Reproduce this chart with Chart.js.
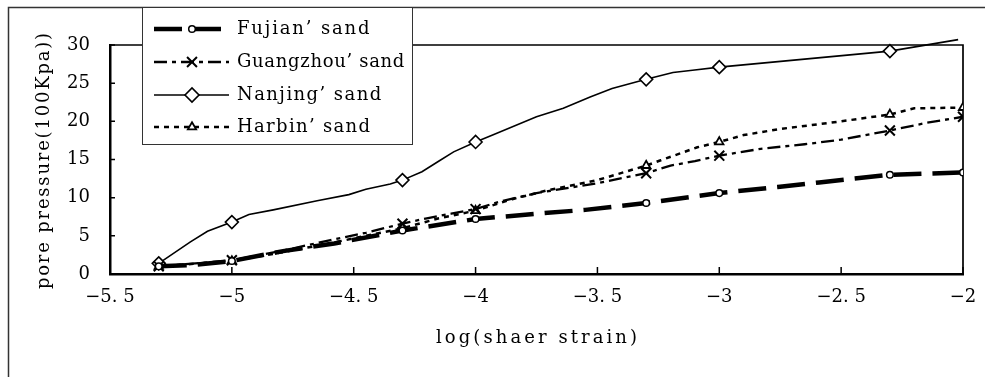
<!DOCTYPE html>
<html>
<head>
<meta charset="utf-8">
<script src="https://cdn.jsdelivr.net/npm/chart.js@4.4.0/dist/chart.umd.min.js"></script>
<style>
  html, body { margin: 0; padding: 0; background: #fff; }
  #wrap { width: 985px; height: 377px; }
</style>
</head>
<body>
<div id="wrap"><canvas id="poreChart" width="985" height="377"></canvas></div>
<script>
// names + tick values
const seriesNames = ["Fujian’ sand", "Guangzhou’ sand", "Nanjing’ sand", "Harbin’ sand"];
const markerX = [-5.3, -5, -4.3, -4, -3.3, -3, -2.3, -2];
const xTicks = [-5.5, -5, -4.5, -4, -3.5, -3, -2.5, -2];
const yTicks = [0, 5, 10, 15, 20, 25, 30];
const xTitle = "log(shaer strain)";
const yTitle = "pore pressure(100Kpa))";

// series
const fujianX = [-5.3, -5.15, -5.0, -4.79, -4.58, -4.3, -4.0, -3.75, -3.55, -3.3, -3.0, -2.76, -2.59, -2.3, -2.0];
const fujianY = [1.0, 1.2, 1.7, 3.0, 4.0, 5.7, 7.2, 7.9, 8.4, 9.3, 10.6, 11.4, 12.0, 13.0, 13.3];

const gzX = [-5.3, -5.0, -4.8, -4.6, -4.45, -4.3, -4.2, -4.1, -4.0, -3.9, -3.75, -3.5, -3.3, -3.2, -3.1, -3.0, -2.83, -2.65, -2.5, -2.3, -2.15, -2.0];
const gzY = [1.0, 1.8, 3.0, 4.4, 5.4, 6.6, 7.3, 7.9, 8.5, 9.5, 10.6, 11.9, 13.2, 14.2, 14.8, 15.5, 16.4, 17.0, 17.6, 18.8, 19.8, 20.6];

const njX = [-5.3, -5.17, -5.1, -5.0, -4.93, -4.83, -4.65, -4.52, -4.45, -4.35, -4.3, -4.22, -4.15, -4.09, -4.0, -3.93, -3.75, -3.64, -3.53, -3.44, -3.3, -3.19, -3.11, -3.0, -2.3, -2.02];
const njY = [1.4, 4.2, 5.6, 6.8, 7.8, 8.4, 9.6, 10.4, 11.1, 11.8, 12.3, 13.4, 14.8, 16.0, 17.3, 18.2, 20.6, 21.7, 23.2, 24.3, 25.5, 26.4, 26.7, 27.1, 29.2, 30.7];

const hbX = [-5.3, -5.0, -4.8, -4.6, -4.45, -4.3, -4.15, -4.0, -3.85, -3.7, -3.5, -3.3, -3.24, -3.09, -3.0, -2.9, -2.75, -2.5, -2.3, -2.2, -2.0];
const hbY = [1.0, 1.7, 2.8, 4.0, 5.0, 6.0, 7.3, 8.3, 9.8, 11.0, 12.3, 14.2, 14.9, 16.6, 17.3, 18.2, 19.0, 20.0, 20.9, 21.7, 21.8];

const FONT = "'DejaVu Serif', serif";
const FSIZE = 18;

function pts(xs, ys) {
  return xs.map((x, i) => ({ x: x, y: ys[i] }));
}
// only show a marker on the measured strains
function markerSize(r) {
  return ctx => (ctx.raw && markerX.includes(ctx.raw.x)) ? r : 0;
}
function fmt(v) {
  return String(v).replace('-', '\u2212').replace('.', '. ');
}
// the original font is monospaced, so stretch text to the same width
function drawSpaced(c, text, x, y, target, align) {
  c.letterSpacing = '0px';
  const w = c.measureText(text).width;
  const n = [...text].length;
  const s = Math.max(0, (target - w) / n);
  c.letterSpacing = s.toFixed(2) + 'px';
  c.textAlign = 'left';
  const x0 = align === 'center' ? x - (target - s) / 2 : x;
  c.fillText(text, x0, y);
  c.letterSpacing = '0px';
}

const decor = {
  id: 'decor',
  beforeDraw(chart) {
    const c = chart.ctx;
    c.save();
    c.fillStyle = '#fff';
    c.fillRect(0, 0, chart.width, chart.height);
    // outer frame, cut off at right and bottom
    c.strokeStyle = '#333';
    c.lineWidth = 1.5;
    c.beginPath();
    c.moveTo(8.5, chart.height);
    c.lineTo(8.5, 7.5);
    c.lineTo(chart.width, 7.5);
    c.stroke();
    c.restore();
  },
  beforeDatasetsDraw(chart) {
    const c = chart.ctx;
    const a = chart.chartArea;
    const xs = chart.scales.x, ys = chart.scales.y;
    c.save();
    c.strokeStyle = '#000';
    c.lineWidth = 1.7;
    c.beginPath();
    c.moveTo(a.left, a.top);
    c.lineTo(a.right, a.top);
    c.lineTo(a.right, a.bottom);
    c.stroke();
    // inward tick marks
    c.lineWidth = 1.5;
    c.beginPath();
    xTicks.forEach(v => {
      const px = xs.getPixelForValue(v);
      c.moveTo(px, a.bottom);
      c.lineTo(px, a.bottom - 7);
    });
    yTicks.forEach(v => {
      const py = ys.getPixelForValue(v);
      c.moveTo(a.left, py);
      c.lineTo(a.left + 5, py);
    });
    c.stroke();
    c.restore();
  },
  afterDraw(chart) {
    const c = chart.ctx;
    const a = chart.chartArea;
    c.save();
    // axis titles
    c.fillStyle = '#000';
    c.font = FSIZE + 'px ' + FONT;
    c.textBaseline = 'middle';
    drawSpaced(c, xTitle, (a.left + a.right) / 2, 338, 204, 'center');
    c.translate(44, 161);
    c.rotate(-Math.PI / 2);
    drawSpaced(c, yTitle, 0, 0, 258, 'center');
    c.restore();

    // legend box
    c.save();
    c.fillStyle = '#fff';
    c.strokeStyle = '#333';
    c.lineWidth = 1;
    c.fillRect(142.5, 7.5, 270, 137);
    c.strokeRect(142.5, 7.5, 270, 137);
    const rows = [29, 62, 95, 127];
    chart.data.datasets.forEach((ds, i) => {
      const y = rows[i];
      c.strokeStyle = '#000';
      c.lineWidth = ds.borderWidth;
      c.setLineDash(ds.borderDash || []);
      c.beginPath();
      c.moveTo(154, y);
      c.lineTo(229, y);
      c.stroke();
      c.setLineDash([]);
      c.fillStyle = '#fff';
      c.lineWidth = ds.pointBorderWidth;
      Chart.helpers.drawPoint(c, {
        pointStyle: ds.pointStyle,
        radius: ds.legendRadius,
        rotation: 0,
        borderWidth: ds.pointBorderWidth
      }, 192, y);
      c.fillStyle = '#000';
      c.font = FSIZE + 'px ' + FONT;
      c.textBaseline = 'middle';
      drawSpaced(c, ds.label, 237, y, [...ds.label].length * 11.2, 'left');
    });
    c.restore();
  }
};

const ctx = document.getElementById('poreChart').getContext('2d');
const chart = new Chart(ctx, {
  type: 'line',
  data: {
    datasets: [
      {
        label: seriesNames[0],
        data: pts(fujianX, fujianY),
        borderColor: '#000',
        borderWidth: 4.5,
        borderDash: [28, 11],
        pointStyle: 'circle',
        pointRadius: markerSize(3.3),
        legendRadius: 3.3,
        pointBackgroundColor: '#fff',
        pointBorderColor: '#000',
        pointBorderWidth: 1.5
      },
      {
        label: seriesNames[1],
        data: pts(gzX, gzY),
        borderColor: '#000',
        borderWidth: 2.3,
        borderDash: [13, 5, 4, 5],
        pointStyle: 'crossRot',
        pointRadius: markerSize(7),
        legendRadius: 7,
        pointBackgroundColor: '#fff',
        pointBorderColor: '#000',
        pointBorderWidth: 2
      },
      {
        label: seriesNames[2],
        data: pts(njX, njY),
        borderColor: '#000',
        borderWidth: 1.6,
        borderDash: [],
        pointStyle: 'rectRot',
        pointRadius: markerSize(6.5),
        legendRadius: 7,
        pointBackgroundColor: '#fff',
        pointBorderColor: '#000',
        pointBorderWidth: 1.6,
        clip: false
      },
      {
        label: seriesNames[3],
        data: pts(hbX, hbY),
        borderColor: '#000',
        borderWidth: 2.5,
        borderDash: [5, 5],
        pointStyle: 'triangle',
        pointRadius: markerSize(4.8),
        legendRadius: 4.8,
        pointBackgroundColor: '#fff',
        pointBorderColor: '#000',
        pointBorderWidth: 1.8
      }
    ]
  },
  options: {
    responsive: false,
    animation: false,
    events: [],
    layout: { padding: { top: 45, right: 0, left: 0, bottom: 0 } },
    elements: { line: { tension: 0, borderCapStyle: 'butt' } },
    plugins: { legend: { display: false }, tooltip: { enabled: false } },
    scales: {
      x: {
        type: 'linear',
        min: -5.5,
        max: -2,
        afterBuildTicks: s => { s.ticks = xTicks.map(v => ({ value: v })); },
        afterFit: s => { s.height = 103; s.paddingLeft = 0; s.paddingRight = 22; },
        ticks: {
          font: { family: FONT, size: FSIZE },
          color: '#000',
          padding: 13,
          maxRotation: 0,
          autoSkip: false,
          callback: v => fmt(v)
        },
        grid: { drawOnChartArea: false, drawTicks: false },
        border: { color: '#000', width: 2.5 }
      },
      y: {
        min: 0,
        max: 30,
        afterBuildTicks: s => { s.ticks = yTicks.map(v => ({ value: v })); },
        afterFit: s => { s.width = 110; },
        ticks: {
          font: { family: FONT, size: FSIZE },
          color: '#000',
          padding: 20
        },
        grid: { drawOnChartArea: false, drawTicks: false },
        border: { color: '#000', width: 2.5 }
      }
    }
  },
  plugins: [decor]
});
</script>
</body>
</html>
